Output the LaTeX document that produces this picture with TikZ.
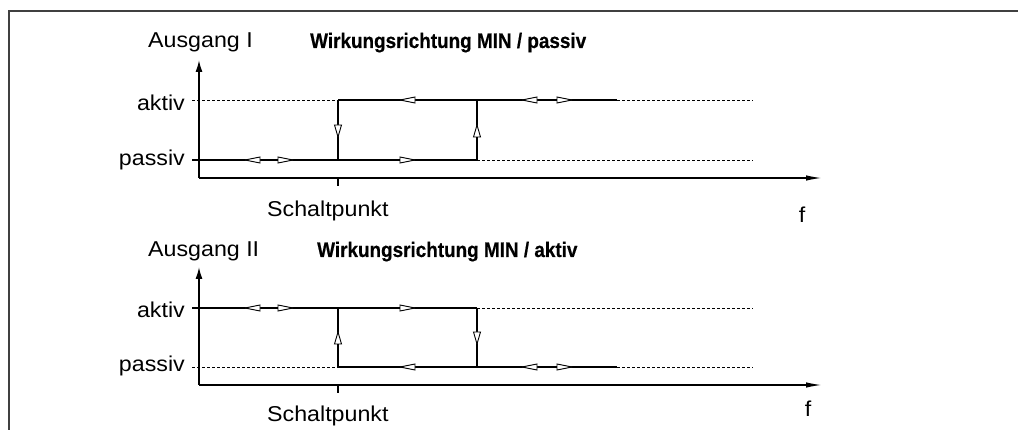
\documentclass[tikz,border=0pt]{standalone}
\usepackage{fontspec}
\setmainfont{Liberation Sans}
\newfontfamily\regfont[FakeStretch=1.08]{Liberation Sans}
\newfontfamily\titfont[FakeStretch=0.9,FakeBold=0.5]{Liberation Sans Bold}
\usetikzlibrary{arrows.meta}
\newcommand\ArR[2]{\draw[tri] (#1,#2) -- ++(-15,-3) -- ++(0,6) -- cycle;}
\newcommand\ArL[2]{\draw[tri] (#1,#2) -- ++(15,-3) -- ++(0,6) -- cycle;}
\newcommand\ArU[2]{\draw[tri] (#1,#2) -- ++(-3.5,12) -- ++(7,0) -- cycle;}
\newcommand\ArD[2]{\draw[tri] (#1,#2) -- ++(-3.5,-12) -- ++(7,0) -- cycle;}
\begin{document}
\begin{tikzpicture}[x=1pt,y=-1pt,
  tri/.style={draw,fill=white,line width=0.9pt,line join=miter},
  sig/.style={line width=1.3pt},
  dsh/.style={line width=0.8pt,dash pattern=on 3pt off 2pt},
  axis/.style={line width=1.5pt},
  yarr/.style={axis,-{Latex[length=12pt,width=7pt]}},
  xarr/.style={axis,-{Latex[length=16pt,width=5.5pt]}},
  lbl/.style={inner sep=0pt,font=\regfont\fontsize{21.5}{24}\selectfont},
  ttl/.style={inner sep=0pt,font=\titfont\fontsize{21}{26}\selectfont},
  frame/.style={line width=1.5pt,draw=black!75}]
\useasboundingbox (0,0) rectangle (1018,430);
% frame
\draw[frame] (9,430) -- (9,11) -- (1018,11);

% ================= Diagram 1 =================
\coordinate (o1) at (199,178);
\draw[yarr] (o1) -- (199,60);
\draw[xarr] (o1) -- (822,178);
\draw[axis] (338,178) -- (338,186);
% levels
\draw[dsh] (192,100) -- (338,100);
\draw[sig] (338,100) -- (617,100);
\draw[dsh] (617,100) -- (753,100);
\draw[sig] (192,160) -- (477,160);
\draw[dsh] (477,160) -- (753,160);
\draw[sig] (338,100) -- (338,160);
\draw[sig] (477,100) -- (477,160);
% arrows
\ArL{245}{160} \ArR{293}{160}
\ArR{415}{160}
\ArD{338}{137}
\ArU{477}{125}
\ArL{400}{100}
\ArL{522}{100} \ArR{572}{100}
% texts
\node[lbl,anchor=base west] (ag1) at (148,48) {Ausgang I};
\node[ttl,anchor=base west] (t1) at (310,48) {Wirkungsrichtung MIN / passiv};
\node[lbl,anchor=base east] (ak1) at (185,111) {aktiv};
\node[lbl,anchor=base east] (pa1) at (185,166) {passiv};
\node[lbl,anchor=base west] (sp1) at (267,217) {Schaltpunkt};
\node[lbl,anchor=base] (f1) at (802,223) {f};

% ================= Diagram 2 =================
\coordinate (o2) at (199,385);
\draw[yarr] (o2) -- (199,267);
\draw[xarr] (o2) -- (822,385);
\draw[axis] (338,385) -- (338,393);
% levels
\draw[sig] (192,308) -- (477,308);
\draw[dsh] (477,308) -- (753,308);
\draw[dsh] (192,367) -- (338,367);
\draw[sig] (338,367) -- (617,367);
\draw[dsh] (617,367) -- (753,367);
\draw[sig] (338,308) -- (338,367);
\draw[sig] (477,308) -- (477,367);
% arrows
\ArL{245}{308} \ArR{293}{308}
\ArR{415}{308}
\ArU{338}{332}
\ArD{477}{344}
\ArL{400}{367}
\ArL{522}{367} \ArR{572}{367}
% texts
\node[lbl,anchor=base west] (ag2) at (148,257) {Ausgang II};
\node[ttl,anchor=base west] (t2) at (317,257) {Wirkungsrichtung MIN / aktiv};
\node[lbl,anchor=base east] (ak2) at (185,318) {aktiv};
\node[lbl,anchor=base east] (pa2) at (185,372) {passiv};
\node[lbl,anchor=base west] (sp2) at (267,421) {Schaltpunkt};
\node[lbl,anchor=base] (f2) at (808,417) {f};
\end{tikzpicture}
\end{document}
